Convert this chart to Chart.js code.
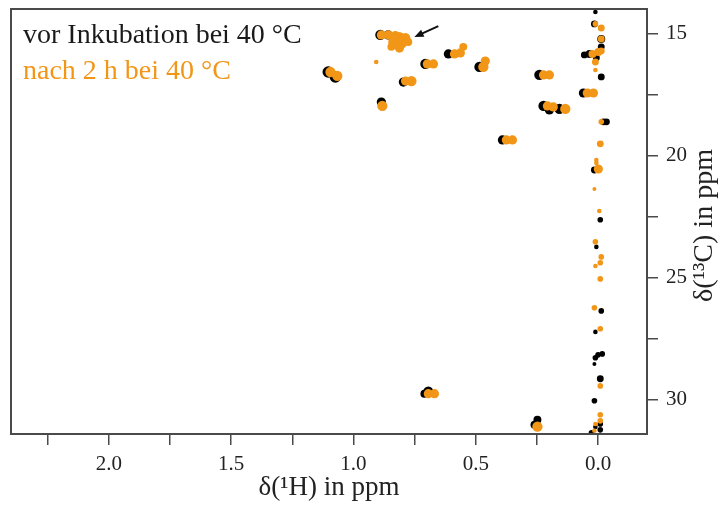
<!DOCTYPE html>
<html>
<head>
<meta charset="utf-8">
<script src="https://cdn.jsdelivr.net/npm/chart.js@4/dist/chart.umd.min.js"></script>
<style>
  html, body { margin: 0; padding: 0; background: #fff; }
  #wrap { width: 720px; height: 505px; }
</style>
</head>
<body>
<div id="wrap"><canvas id="c" width="720" height="505"></canvas></div>
<script>
// 1H-13C cross peaks, δ(1H) / δ(13C) in ppm, peak volume in arbitrary units
const seriesNames = ['vor Inkubation bei 40 °C', 'nach 2 h bei 40 °C'];

const beforeH = [0.890, 0.858, 0.706, 1.103, 1.074, 0.796, 0.886, 0.612, 0.485, 0.240, 0.223, 0.199, 0.158, 0.391,
                 0.011, 0.015, -0.013, -0.013, 0.056, 0.035, 0.007, -0.013, 0.060, -0.034, -0.022, 0.015, -0.009, 0.007,
                 -0.013, 0.011, 0.000, -0.017, 0.011, 0.015, -0.009, 0.015, -0.009, 0.011, -0.009, 0.027,
                 0.694, 0.710, 0.248, 0.260];
const beforeC = [15.06, 15.06, 16.25, 16.58, 16.78, 16.99, 17.81, 15.84, 16.37, 16.70, 17.97, 18.13, 18.09, 19.36,
                 14.12, 14.61, 15.23, 15.55, 15.88, 15.84, 16.00, 16.78, 17.44, 18.62, 18.62, 20.59, 22.63, 23.74,
                 26.36, 27.22, 28.16, 28.12, 28.28, 28.53, 29.14, 30.04, 30.99, 31.11, 31.23, 31.35,
                 29.67, 29.75, 30.82, 31.02];
const beforeVol = [20, 16, 20, 25, 25, 16, 16, 16, 20, 20, 20, 16, 20, 16,
                   4, 9, 12, 9, 9, 12, 9, 9, 16, 9, 9, 9, 6, 4,
                   6, 4, 6, 6, 6, 3, 9, 6, 6, 4, 6, 6,
                   20, 12, 12, 12];

const afterH = [0.886, 0.857, 0.812, 0.788, 0.837, 0.804, 0.776, 0.845, 0.812, 0.829, 0.907, 0.698, 0.673,
                1.094, 1.066, 0.763, 0.787, 0.882, 0.587, 0.563, 0.551, 0.461, 0.469, 0.223, 0.199, 0.207, 0.183,
                0.134, 0.375, 0.350,
                0.011, -0.013, -0.013, 0.023, -0.001, -0.013, 0.011, 0.011, 0.044, 0.019, -0.013, -0.009, 0.007,
                0.007, -0.001, 0.015, -0.005, 0.011, -0.013, -0.009, 0.011, -0.009, 0.015, -0.009, -0.009, -0.009,
                -0.009, 0.011, 0.015, 0.694, 0.669, 0.248];
const afterC = [15.06, 15.06, 15.15, 15.19, 15.35, 15.39, 15.35, 15.55, 15.60, 15.06, 16.17, 16.25, 16.25,
                16.58, 16.74, 16.95, 16.95, 17.97, 15.84, 15.80, 15.55, 16.13, 16.37, 16.70, 16.70, 17.97, 18.01,
                18.09, 19.36, 19.36,
                14.61, 14.78, 15.23, 15.84, 15.76, 15.72, 16.17, 16.50, 17.44, 17.44, 18.62, 19.52, 20.18,
                20.30, 20.55, 21.37, 22.27, 23.53, 24.15, 24.39, 24.52, 25.05, 26.23, 27.09, 29.43, 30.61,
                30.86, 30.99, 31.27, 29.75, 29.75, 31.10];
const afterVol = [16, 16, 20, 20, 20, 25, 12, 12, 16, 12, 4, 16, 16,
                  20, 20, 20, 16, 20, 16, 16, 12, 16, 20, 16, 16, 16, 16,
                  20, 16, 16,
                  6, 9, 9, 12, 12, 9, 9, 4, 16, 16, 6, 9, 4,
                  4, 16, 3, 4, 6, 6, 6, 4, 6, 6, 6, 6, 6,
                  6, 4, 4, 16, 16, 20];

// tick values that carry a label
const hLabeled = [0, 0.5, 1, 1.5, 2];
const cLabeled = [15, 20, 25, 30];

// arrow pointing at the new signal group (start, tip) in ppm
const arrowFrom = [0.653, 14.70];
const arrowTo = [0.751, 15.15];

const BLACK = '#000000';
const ORANGE = '#F29618';
const AXIS = '#4a4a4a';
const SERIF = "'Liberation Serif', 'DejaVu Serif', serif";

function toPoints(h, c) {
  return h.map((v, i) => ({ x: v, y: c[i] }));
}
// contour blob radius grows with the square root of the peak volume
function radiusOf(vol) {
  return ctx => 1.15 * Math.sqrt(vol[ctx.dataIndex]);
}
function near(list, v) {
  return list.some(t => Math.abs(t - v) < 1e-6);
}

const decor = {
  id: 'decor',
  afterDraw(chart) {
    const { ctx, chartArea: a, scales } = chart;
    ctx.save();
    // frame around the plot area
    ctx.strokeStyle = AXIS;
    ctx.lineWidth = 2;
    ctx.strokeRect(a.left, a.top, a.right - a.left, a.bottom - a.top);

    // series names in their colours
    ctx.font = '28px ' + SERIF;
    ctx.textBaseline = 'alphabetic';
    ctx.textAlign = 'left';
    chart.data.datasets.forEach((ds, i) => {
      ctx.fillStyle = i === 0 ? '#1a1a1a' : ds.backgroundColor;
      ctx.fillText(ds.label, a.left + 12, a.top + 34 + i * 36);
    });

    // arrow
    const x0 = scales.x.getPixelForValue(arrowFrom[0]);
    const y0 = scales.y.getPixelForValue(arrowFrom[1]);
    const x1 = scales.x.getPixelForValue(arrowTo[0]);
    const y1 = scales.y.getPixelForValue(arrowTo[1]);
    const ang = Math.atan2(y1 - y0, x1 - x0);
    const head = 10;
    ctx.strokeStyle = '#111';
    ctx.fillStyle = '#111';
    ctx.lineWidth = 2;
    ctx.beginPath();
    ctx.moveTo(x0, y0);
    ctx.lineTo(x1 - Math.cos(ang) * head * 0.7, y1 - Math.sin(ang) * head * 0.7);
    ctx.stroke();
    ctx.beginPath();
    ctx.moveTo(x1, y1);
    ctx.lineTo(x1 - Math.cos(ang - 0.4) * head, y1 - Math.sin(ang - 0.4) * head);
    ctx.lineTo(x1 - Math.cos(ang + 0.4) * head, y1 - Math.sin(ang + 0.4) * head);
    ctx.closePath();
    ctx.fill();

    // vertical axis title, reading upwards
    ctx.translate(705, (a.top + a.bottom) / 2 + 4);
    ctx.rotate(-Math.PI / 2);
    ctx.font = '28px ' + SERIF;
    ctx.fillStyle = '#222';
    ctx.textAlign = 'center';
    ctx.textBaseline = 'middle';
    ctx.fillText('δ(¹³C) in ppm', 0, 0);
    ctx.restore();
  }
};

new Chart(document.getElementById('c'), {
  type: 'scatter',
  data: {
    datasets: [
      {
        label: seriesNames[0],
        data: toPoints(beforeH, beforeC),
        backgroundColor: BLACK,
        borderWidth: 0,
        pointRadius: radiusOf(beforeVol),
        order: 1
      },
      {
        label: seriesNames[1],
        data: toPoints(afterH, afterC),
        backgroundColor: ORANGE,
        borderWidth: 0,
        pointRadius: radiusOf(afterVol),
        order: 0
      }
    ]
  },
  plugins: [decor],
  options: {
    responsive: false,
    animation: false,
    devicePixelRatio: 1,
    events: [],
    layout: { padding: { left: 11, top: 9, right: 0, bottom: 0 } },
    plugins: { legend: { display: false }, tooltip: { enabled: false } },
    scales: {
      x: {
        type: 'linear',
        position: 'bottom',
        min: -0.2,
        max: 2.4,
        reverse: true,
        afterFit: s => { s.height = 71; s.paddingLeft = 0; s.paddingRight = 0; },
        border: { display: false },
        grid: { drawOnChartArea: false, drawTicks: true, tickLength: 11, color: AXIS, lineWidth: 1.5 },
        ticks: {
          stepSize: 0.25,
          includeBounds: false,
          autoSkip: false,
          maxTicksLimit: 40,
          maxRotation: 0,
          padding: 7,
          color: '#222',
          font: { family: SERIF, size: 21 },
          callback: v => near(hLabeled, v) ? Number(v).toFixed(1) : ''
        },
        title: {
          display: true,
          text: 'δ(¹H) in ppm',
          color: '#222',
          font: { family: SERIF, size: 27 },
          padding: { top: 0, bottom: 1 }
        }
      },
      y: {
        type: 'linear',
        position: 'right',
        min: 14,
        max: 31.4,
        reverse: true,
        afterFit: s => { s.width = 73; s.paddingTop = 0; s.paddingBottom = 0; },
        border: { display: false },
        grid: { drawOnChartArea: false, drawTicks: true, tickLength: 11, color: AXIS, lineWidth: 1.5 },
        ticks: {
          stepSize: 2.5,
          includeBounds: false,
          autoSkip: false,
          maxTicksLimit: 40,
          padding: 8,
          color: '#222',
          font: { family: SERIF, size: 21 },
          callback: v => near(cLabeled, v) ? String(v) : ''
        }
      }
    }
  }
});
</script>
</body>
</html>
